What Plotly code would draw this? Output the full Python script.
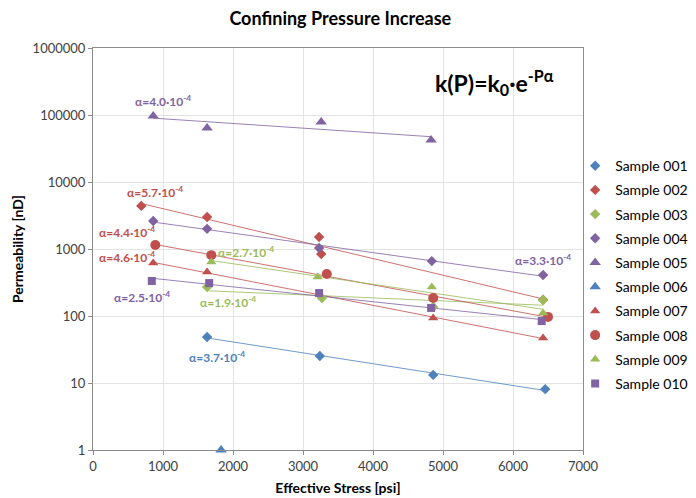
import numpy as np
import plotly.graph_objects as go

# ---- data ----
series_names = ["Sample 001", "Sample 002", "Sample 003", "Sample 004", "Sample 005",
                "Sample 006", "Sample 007", "Sample 008", "Sample 009", "Sample 010"]

s001_x = [1630, 3240, 4860, 6460]
s001_y = [48.6, 25.3, 13.2, 8.1]
s002_x = [690, 1630, 3230, 3260, 6430]
s002_y = [4400, 3000, 1510, 840, 175]
s003_x = [1630, 3270, 4860, 6430]
s003_y = [270, 186, 136, 173]
s004_x = [860, 1630, 3230, 4840, 6430]
s004_y = [2620, 2000, 1035, 660, 410]
s005_x = [860, 1630, 3260, 4830]
s005_y = [96600, 64000, 78700, 42400]
s006_x = [1830]
s006_y = [1]
s007_x = [860, 1630, 4860, 6430]
s007_y = [620, 455, 93, 47]
s008_x = [890, 1690, 3340, 4860, 6500]
s008_y = [1150, 810, 424, 186, 97]
s009_x = [1690, 3210, 4840, 6430]
s009_y = [640, 382, 271, 111]
s010_x = [840, 1660, 3230, 4830, 6410]
s010_y = [333, 310, 220, 132, 84]

alpha_labels = ["α=4.0·10<sup>-4</sup>", "α=5.7·10<sup>-4</sup>", "α=4.4·10<sup>-4</sup>",
                "α=4.6·10<sup>-4</sup>", "α=2.7·10<sup>-4</sup>", "α=2.5·10<sup>-4</sup>",
                "α=1.9·10<sup>-4</sup>", "α=3.7·10<sup>-4</sup>", "α=3.3·10<sup>-4</sup>"]
alpha_x = [1000, 886, 480, 480, 2186, 700, 1929, 1771, 6429]
alpha_y = [162000, 7100, 1795, 770, 902, 192, 162, 24.4, 685]

xs = [s001_x, s002_x, s003_x, s004_x, s005_x, s006_x, s007_x, s008_x, s009_x, s010_x]
ys = [s001_y, s002_y, s003_y, s004_y, s005_y, s006_y, s007_y, s008_y, s009_y, s010_y]

BLUE, RED, GREEN, PURPLE = "#4F81BD", "#C0504D", "#9BBB59", "#8064A2"
colors = [BLUE, RED, GREEN, PURPLE, PURPLE, BLUE, RED, RED, GREEN, PURPLE]
symbols = ["diamond", "diamond", "diamond", "diamond", "triangle-up", "triangle-up",
           "triangle-up", "circle", "triangle-up", "square"]
sizes = [8, 8, 8, 8, 10, 10, 9, 10, 9, 8]
alpha_colors = [PURPLE, RED, RED, RED, GREEN, PURPLE, GREEN, BLUE, PURPLE]

FONT = "Lato"

fig = go.Figure()

# exponential trendlines (least-squares on log values)
for x, y, c in zip(xs, ys, colors):
    if len(x) < 2:
        continue
    xa = np.array(x, float)
    b, a = np.polyfit(xa, np.log(np.array(y, float)), 1)
    xl = np.array([xa.min(), xa.max()])
    fig.add_trace(go.Scatter(x=xl, y=np.exp(a + b * xl), mode="lines",
                             line=dict(color=c, width=1), opacity=0.8,
                             showlegend=False, hoverinfo="skip"))

for i, (x, y) in enumerate(zip(xs, ys)):
    fig.add_trace(go.Scatter(x=x, y=y, mode="markers", name=series_names[i],
                             legendgroup=series_names[i],
                             marker=dict(symbol=symbols[i], color=colors[i], size=sizes[i]),
                             cliponaxis=False))

for t, x, y, c in zip(alpha_labels, alpha_x, alpha_y, alpha_colors):
    fig.add_annotation(x=x, y=np.log10(y), text="<b>" + t + "</b>", showarrow=False,
                       font=dict(family=FONT, size=12, color=c))

fig.add_annotation(x=5730, y=np.log10(310000),
                   text="<b>k(P)=k<sub>0</sub>·e<sup>-Pα</sup></b>",
                   showarrow=False, font=dict(family=FONT, size=23, color="#000000"))

fig.update_layout(
    width=688, height=490,
    margin=dict(l=85, r=113, t=40, b=48, autoexpand=False),
    paper_bgcolor="white", plot_bgcolor="white",
    font=dict(family=FONT, size=13, color="#404040"),
    title=dict(text="<b>Confining Pressure Increase</b>", x=0.483, xanchor="center",
               y=0.979, yanchor="middle", font=dict(family=FONT, size=18, color="#000000")),
    legend=dict(x=0.984, y=0.746, xanchor="left", yanchor="top", traceorder="grouped",
                tracegroupgap=3, font=dict(family=FONT, size=14, color="#000000"),
                itemwidth=30, bgcolor="rgba(0,0,0,0)"),
    showlegend=True,
)
fig.update_xaxes(range=[0, 7000], dtick=1000, showgrid=True, gridcolor="#E3E3E3",
                 showline=True, linecolor="#8C8C8C", mirror=True, ticks="outside",
                 ticklen=4, tickcolor="#8C8C8C", zeroline=False, automargin=False,
                 tickfont=dict(size=13),
                 title=dict(text="<b>Effective Stress [psi]</b>", standoff=10,
                            font=dict(family=FONT, size=14, color="#000000")))
fig.update_yaxes(type="log", range=[0, 6], dtick=1, tickformat="d", showgrid=True,
                 gridcolor="#E3E3E3", showline=True, linecolor="#8C8C8C", mirror=True,
                 ticks="outside", ticklen=4, tickcolor="#8C8C8C", automargin=False,
                 tickfont=dict(size=13),
                 title=dict(text="<b>Permeability [nD]</b>", standoff=5,
                            font=dict(family=FONT, size=14, color="#000000")))

fig.write_html("out.html")
